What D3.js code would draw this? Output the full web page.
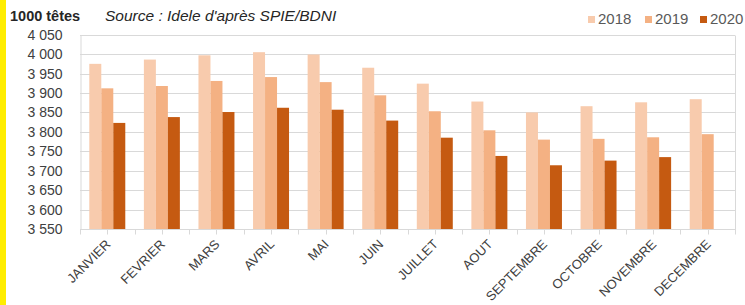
<!DOCTYPE html>
<html>
<head>
<meta charset="utf-8">
<script src="https://cdn.jsdelivr.net/npm/d3@7/dist/d3.min.js"></script>
<style>
  body { margin: 0; background: #fff; }
  svg { display: block; }
  .grid line { stroke: #d9d9d9; }
</style>
</head>
<body>
<div id="chart"></div>
<script>
var months = ["JANVIER", "FEVRIER", "MARS", "AVRIL", "MAI", "JUIN", "JUILLET", "AOUT", "SEPTEMBRE", "OCTOBRE", "NOVEMBRE", "DECEMBRE"];
var years = ["2018", "2019", "2020"];
var v2018 = [3975, 3986, 3997, 4005, 3999, 3965, 3924, 3878, 3850, 3866, 3876, 3884];
var v2019 = [3912, 3918, 3931, 3941, 3928, 3894, 3853, 3804, 3780, 3782, 3786, 3794];
var v2020 = [3823, 3838, 3851, 3862, 3857, 3829, 3785, 3738, 3714, 3726, 3735, null];
var yTicks = [3550, 3600, 3650, 3700, 3750, 3800, 3850, 3900, 3950, 4000, 4050];
var colors = ["#f8cbad", "#f4b183", "#c55a11"];

var width = 745, height = 305;
var pLeft = 80, pRight = 735, pTop = 34.7, pBottom = 229;
var font = "'Liberation Sans', Arial, sans-serif";

var series = [v2018, v2019, v2020];

var svg = d3.select("#chart").append("svg")
    .attr("width", width)
    .attr("height", height);

// yellow strip on the left
svg.append("rect")
    .attr("x", 0).attr("y", 0)
    .attr("width", 6).attr("height", height)
    .style("fill", "#ffed00");

var x = d3.scaleBand().domain(months).range([pLeft, pRight]);
var xs = d3.scaleBand().domain(years).range([0, x.bandwidth()])
    .paddingInner(0).paddingOuter(0.775);
var y = d3.scaleLinear().domain([3550, 4050]).range([pBottom, pTop]);

// gridlines
svg.append("g").attr("class", "grid")
    .selectAll("line").data(yTicks.slice(1)).enter().append("line")
    .attr("x1", pLeft).attr("x2", pRight)
    .attr("y1", function(d) { return Math.round(y(d)) + 0.5; })
    .attr("y2", function(d) { return Math.round(y(d)) + 0.5; });

// right border
svg.append("line")
    .attr("x1", pRight + 0.5).attr("x2", pRight + 0.5)
    .attr("y1", Math.round(y(4050)) + 0.5).attr("y2", Math.round(y(3550)) + 0.5)
    .style("stroke", "#d9d9d9");

// bars
var rows = [];
months.forEach(function(m, i) {
    years.forEach(function(yr, j) {
        if (series[j][i] != null) rows.push({month: m, year: yr, idx: j, value: series[j][i]});
    });
});

svg.append("g").selectAll("rect")
    .data(rows).enter().append("rect")
    .attr("x", function(d) { return x(d.month) + xs(d.year); })
    .attr("width", xs.bandwidth())
    .attr("y", function(d) { return y(d.value); })
    .attr("height", function(d) { return y(3550) - y(d.value); })
    .style("fill", function(d) { return colors[d.idx]; });

// y axis
var yAxis = svg.append("g")
    .attr("transform", "translate(" + (pLeft + 0.5) + ",0)")
    .call(d3.axisLeft(y).tickValues(yTicks).tickSize(0).tickPadding(18)
        .tickFormat(function(d) { return d3.format(",")(d).replace(",", " "); }));
yAxis.select(".domain").attr("stroke", "#d9d9d9");
yAxis.selectAll("text")
    .style("font-family", font)
    .style("font-size", "14px")
    .style("fill", "#404040");

// x axis
var halfTicks = d3.range(months.length * 2 + 1).map(function(i) { return pLeft + i * x.bandwidth() / 2; });
svg.append("line")
    .attr("x1", pLeft).attr("x2", pRight + 1)
    .attr("y1", Math.round(y(3550)) + 0.5).attr("y2", Math.round(y(3550)) + 0.5)
    .style("stroke", "#d9d9d9");
svg.append("g").selectAll("line")
    .data(halfTicks).enter().append("line")
    .attr("x1", function(d) { return Math.round(d) + 0.5; })
    .attr("x2", function(d) { return Math.round(d) + 0.5; })
    .attr("y1", Math.round(y(3550)) + 0.5)
    .attr("y2", Math.round(y(3550)) + 5.5)
    .style("stroke", "#d9d9d9");

svg.append("g").selectAll("text")
    .data(months).enter().append("text")
    .attr("transform", function(d) {
        return "translate(" + (x(d) + x.bandwidth() / 2 + 4) + "," + 245 + ") rotate(-45)";
    })
    .attr("text-anchor", "end")
    .style("font-family", font)
    .style("font-size", "13px")
    .style("fill", "#404040")
    .text(function(d) { return d; });

// titles
svg.append("text")
    .attr("x", 10).attr("y", 21)
    .style("font-family", font)
    .style("font-size", "14.5px")
    .style("font-weight", "bold")
    .style("fill", "#262626")
    .text("1000 têtes");

svg.append("text")
    .attr("x", 105).attr("y", 21)
    .style("font-family", font)
    .style("font-size", "15.5px")
    .style("font-style", "italic")
    .style("fill", "#262626")
    .text("Source : Idele d'après SPIE/BDNI");

// legend
var legendX = [588, 645, 700];
var legend = svg.append("g").selectAll("g")
    .data(years).enter().append("g")
    .attr("transform", function(d, i) { return "translate(" + legendX[i] + ",0)"; });
legend.append("rect")
    .attr("x", 0).attr("y", 16)
    .attr("width", 7).attr("height", 7)
    .style("fill", function(d, i) { return colors[i]; });
legend.append("text")
    .attr("x", 10).attr("y", 24)
    .style("font-family", font)
    .style("font-size", "15px")
    .style("fill", "#595959")
    .text(function(d) { return d; });
</script>
</body>
</html>
